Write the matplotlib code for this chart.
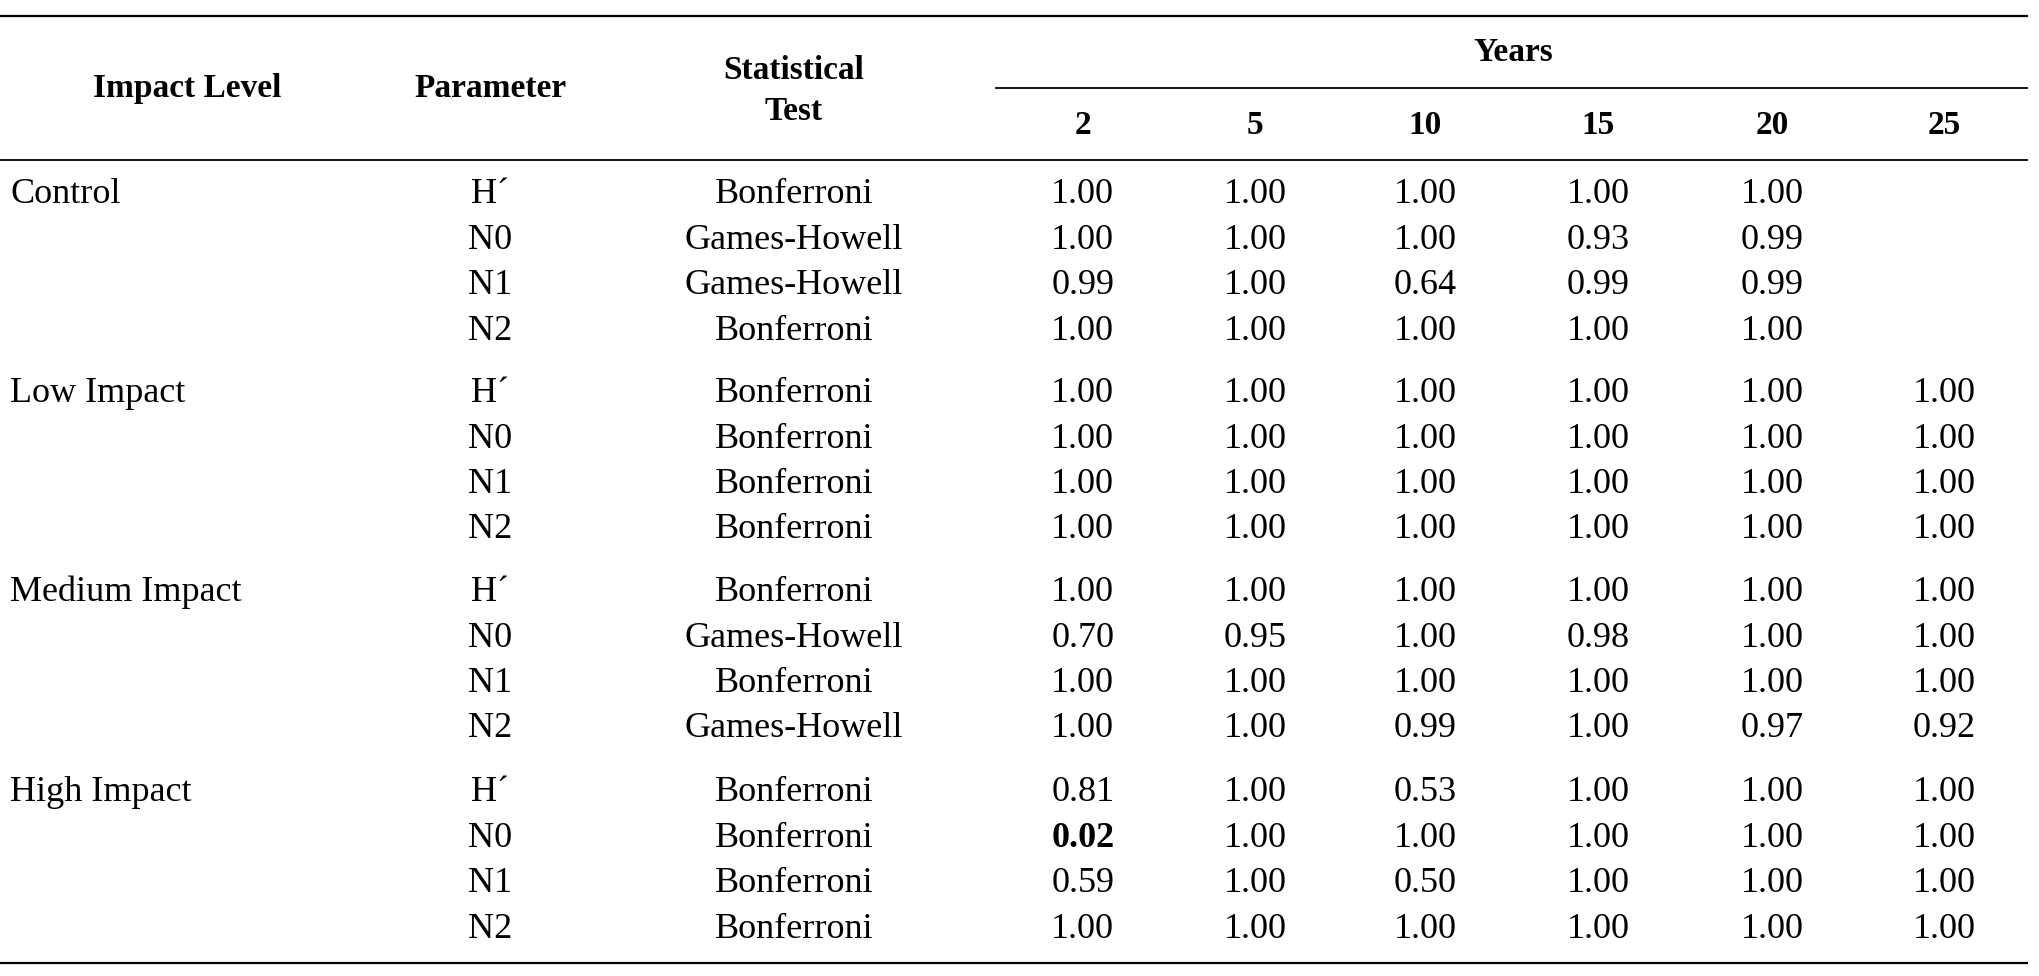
import matplotlib.pyplot as plt

plt.rcParams['font.family'] = ['Liberation Serif', 'DejaVu Serif']

levels = ["Control", "Low Impact", "Medium Impact", "High Impact"]
params = ["H\u00b4", "N0", "N1", "N2"]
years = ["2", "5", "10", "15", "20", "25"]
tests = [
    ["Bonferroni", "Games-Howell", "Games-Howell", "Bonferroni"],
    ["Bonferroni", "Bonferroni", "Bonferroni", "Bonferroni"],
    ["Bonferroni", "Games-Howell", "Bonferroni", "Games-Howell"],
    ["Bonferroni", "Bonferroni", "Bonferroni", "Bonferroni"],
]
values = [
    [["1.00", "1.00", "1.00", "1.00", "1.00", ""],
     ["1.00", "1.00", "1.00", "0.93", "0.99", ""],
     ["0.99", "1.00", "0.64", "0.99", "0.99", ""],
     ["1.00", "1.00", "1.00", "1.00", "1.00", ""]],
    [["1.00"] * 6, ["1.00"] * 6, ["1.00"] * 6, ["1.00"] * 6],
    [["1.00"] * 6,
     ["0.70", "0.95", "1.00", "0.98", "1.00", "1.00"],
     ["1.00"] * 6,
     ["1.00", "1.00", "0.99", "1.00", "0.97", "0.92"]],
    [["0.81", "1.00", "0.53", "1.00", "1.00", "1.00"],
     ["0.02", "1.00", "1.00", "1.00", "1.00", "1.00"],
     ["0.59", "1.00", "0.50", "1.00", "1.00", "1.00"],
     ["1.00"] * 6],
]
bold_cells = {(3, 1, 0)}

W, H = 1560, 746
fig = plt.figure(figsize=(20.4, 9.76), dpi=100)


def X(x):
    return x / W


def Y(y):
    return 1 - y / H


def hline(y, x0=0, x1=1550, lw=1.6):
    fig.add_artist(plt.Line2D([X(x0), X(x1)], [Y(y), Y(y)], color="black", lw=lw))


fs = 26
hline(12)
hline(67, 762, 1550, lw=1.3)
hline(122, lw=1.3)
hline(736)

# header
fig.text(X(143), Y(68), "Impact Level", ha="center", va="center", fontsize=fs - 2, fontweight="bold")
fig.text(X(375), Y(68), "Parameter", ha="center", va="center", fontsize=fs - 2, fontweight="bold")
fig.text(X(607), Y(54), "Statistical", ha="center", va="center", fontsize=fs - 2, fontweight="bold")
fig.text(X(607), Y(85), "Test", ha="center", va="center", fontsize=fs - 2, fontweight="bold")
fig.text(X(1157), Y(40), "Years", ha="center", va="center", fontsize=fs - 2, fontweight="bold")
year_x = [828, 960, 1090, 1222, 1355, 1487]
for yx, yr in zip(year_x, years):
    fig.text(X(yx), Y(96), yr, ha="center", va="center", fontsize=fs - 2, fontweight="bold")

group_y = [149, 301, 453, 606]
row_step = 34.7
for g, lev in enumerate(levels):
    fig.text(X(8), Y(group_y[g]), lev, ha="left", va="center", fontsize=fs)
    for r, p in enumerate(params):
        y = group_y[g] + r * row_step
        fig.text(X(375), Y(y), p, ha="center", va="center", fontsize=fs)
        fig.text(X(607), Y(y), tests[g][r], ha="center", va="center", fontsize=fs)
        for c, v in enumerate(values[g][r]):
            fw = "bold" if (g, r, c) in bold_cells else "normal"
            fig.text(X(year_x[c]), Y(y), v, ha="center", va="center", fontsize=fs, fontweight=fw)

fig.savefig("out.png", dpi=100, facecolor="white")
